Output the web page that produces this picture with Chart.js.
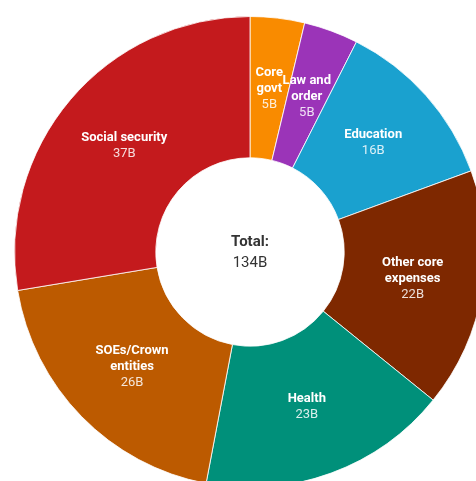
<!DOCTYPE html>
<html>
<head>
<meta charset="utf-8">
<script src="https://cdn.jsdelivr.net/npm/chart.js@4"></script>
<style>
  html, body { margin: 0; padding: 0; background: #fff; overflow: hidden; }
  body { width: 476px; height: 481px; position: relative; }
  #wrap { position: absolute; left: 13.5px; top: 15.5px; width: 472px; height: 472px; }
</style>
</head>
<body>
<div id="wrap"><canvas id="spendChart"></canvas></div>
<script>
const categories = [
    ["Core", "govt"],
    ["Law and", "order"],
    ["Education"],
    ["Other core", "expenses"],
    ["Health"],
    ["SOEs/Crown", "entities"],
    ["Social security"]
];
const values = [5, 5, 16, 22, 23, 26, 37];
const colors = ["#F98B00", "#9B34B8", "#1AA1CF", "#7E2800", "#00907A", "#BC5A00", "#C41A1D"];
const totalLabel = ["Total:", "134B"];

const FONT = "Roboto, 'Noto Sans', sans-serif";

// writes the category name and value in each slice, plus the total in the hole
const sliceLabels = {
    id: "sliceLabels",
    afterDatasetsDraw(chart) {
        const ctx = chart.ctx;
        const meta = chart.getDatasetMeta(0);
        ctx.save();
        ctx.textAlign = "center";
        ctx.textBaseline = "middle";
        meta.data.forEach((arc, i) => {
            const p = arc.getCenterPoint();
            const lines = categories[i].concat([values[i] + "B"]);
            const lh = 16;
            let y = p.y - (lines.length - 1) * lh / 2;
            lines.forEach((txt, j) => {
                const isValue = j === lines.length - 1;
                ctx.font = (isValue ? "400 " : "700 ") + "13px " + FONT;
                ctx.fillStyle = isValue ? "rgba(255,255,255,0.85)" : "#fff";
                ctx.fillText(txt, p.x, y);
                y += lh;
            });
        });
        const c = meta.data[0];
        ctx.fillStyle = "#333";
        ctx.font = "700 15px " + FONT;
        ctx.fillText(totalLabel[0], c.x, c.y - 10);
        ctx.font = "400 15px " + FONT;
        ctx.fillText(totalLabel[1], c.x, c.y + 11);
        ctx.restore();
    }
};

new Chart(document.getElementById("spendChart"), {
    type: "doughnut",
    data: {
        labels: categories.map(c => c.join(" ")),
        datasets: [{
            data: values,
            backgroundColor: colors,
            borderColor: "rgba(255,255,255,0.8)",
            borderWidth: 1
        }]
    },
    options: {
        responsive: true,
        maintainAspectRatio: false,
        animation: false,
        cutout: "40%",
        layout: { padding: 0 },
        plugins: {
            legend: { display: false },
            tooltip: { enabled: false }
        }
    },
    plugins: [sliceLabels]
});
</script>
</body>
</html>
